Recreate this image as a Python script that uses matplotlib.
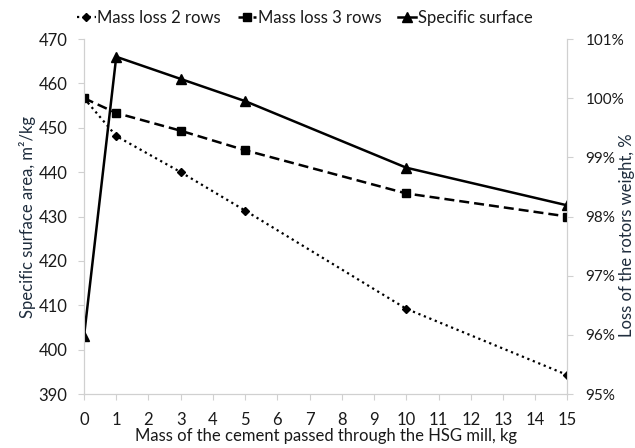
import matplotlib
matplotlib.use("Agg")
import matplotlib.pyplot as plt
from matplotlib.ticker import FuncFormatter

plt.rcParams["font.family"] = ["Lato", "DejaVu Sans"]

# data
mass_kg = [0, 1, 3, 5, 10, 15]
specific_surface = [403, 466, 461, 456, 441, 432.5]
mass_loss_2_rows = [100.0, 99.36, 98.75, 98.10, 96.44, 95.32]
mass_loss_3_rows = [100.0, 99.75, 99.45, 99.12, 98.39, 98.00]

x_ticks = list(range(0, 16))
left_ticks = [390, 400, 410, 420, 430, 440, 450, 460, 470]
right_ticks = [95, 96, 97, 98, 99, 100, 101]

grey = "#d0d0d0"
text_col = "#1a1a1a"

fig = plt.figure(figsize=(6.35, 4.48), dpi=100)
ax = fig.add_axes([0.1323, 0.1205, 0.7614, 0.7924])
ax2 = ax.twinx()

l3, = ax.plot(mass_kg, specific_surface, "-", color="black", lw=1.8,
              marker="^", markersize=7, label="Specific surface", zorder=3)
l1, = ax2.plot(mass_kg, mass_loss_2_rows, ":", color="black", lw=1.6,
               marker="D", markersize=4.5, label="Mass loss 2 rows")
l2, = ax2.plot(mass_kg, mass_loss_3_rows, "--", color="black", lw=1.8,
               dashes=(4, 2), marker="s", markersize=5.5, label="Mass loss 3 rows")

ax.set_xlim(0, 15)
ax.set_ylim(390, 470)
ax2.set_ylim(95, 101)
ax.set_xticks(x_ticks)
ax.set_yticks(left_ticks)
ax2.set_yticks(right_ticks)
ax2.yaxis.set_major_formatter(FuncFormatter(lambda v, p: f"{v:.0f}%"))

for a in (ax, ax2):
    for s in a.spines.values():
        s.set_color(grey)
        s.set_linewidth(0.8)
    a.spines["top"].set_visible(False)
    a.tick_params(colors=grey, labelcolor=text_col, labelsize=12, length=4, width=0.8)

ax.tick_params(axis="x", pad=9)
ax.tick_params(axis="y", pad=8)
ax2.tick_params(axis="y", pad=9, labelsize=11)

# axis titles
fig.text(0.5 * (ax.get_position().x0 + ax.get_position().x1), 1 - 436 / 448,
         "Mass of the cement passed through the HSG mill, kg", fontsize=12,
         color=text_col, ha="center", va="center")
ax.set_ylabel("Specific surface area, m\u00b2/kg", fontsize=12, color="#1f2d3d", labelpad=2)
fig.text(619 / 635, 0.475, "Loss of the rotors weight, %", rotation=90, fontsize=12,
         color="#1f2d3d", ha="left", va="center")

fig.legend(handles=[l1, l2, l3], loc="center", bbox_to_anchor=(305 / 635, 0.96),
           ncol=3, frameon=False, fontsize=12, handlelength=1.1, handletextpad=0.1,
           columnspacing=1.0, labelcolor=text_col)

fig.savefig("out.png", dpi=100)
